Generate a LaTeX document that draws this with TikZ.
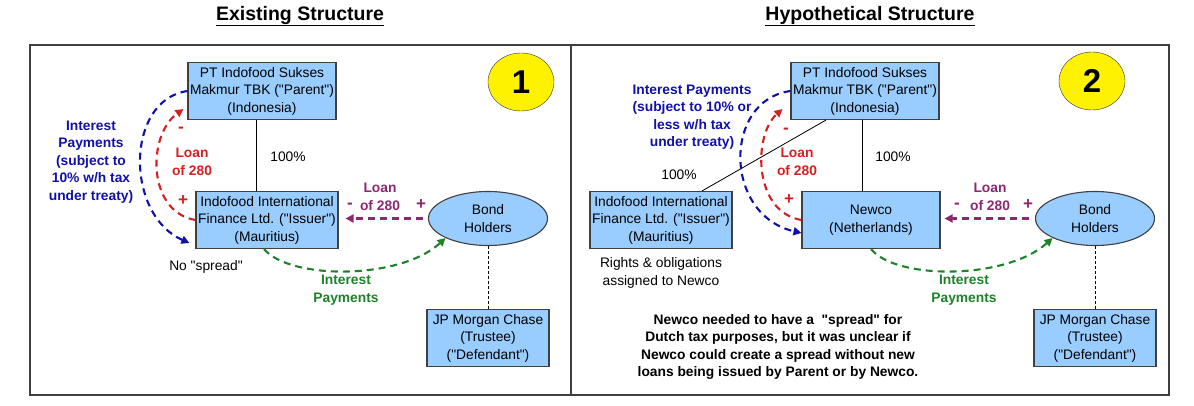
\documentclass[tikz,border=0pt]{standalone}
\usepackage{fontspec}
\setmainfont{Liberation Sans}[Ligatures=TeXReset]
\usetikzlibrary{shapes,arrows.meta,positioning,calc}
\definecolor{entityblue}{RGB}{153,204,255}
\definecolor{payblue}{RGB}{16,16,170}
\definecolor{loanred}{RGB}{214,32,32}
\definecolor{bondpurple}{RGB}{140,40,110}
\definecolor{paygreen}{RGB}{30,130,40}
\newcommand\diagfont{\fontsize{13.8}{17.5}\selectfont}

\begin{document}
\begin{tikzpicture}[x=1pt, y=-1pt, every node/.style={font=\diagfont, align=center},
  entity/.style={draw=black!75, line width=1.1pt, fill=entityblue, minimum height=57pt, inner sep=2pt},
  holders/.style={draw=black!75, line width=1.1pt, fill=entityblue, ellipse, minimum width=119pt, minimum height=54pt},
  badge/.style={draw=black!80, fill=yellow, ellipse, minimum width=66pt, minimum height=58pt, font=\fontsize{33}{33}\selectfont\bfseries},
  flow/.style={dash pattern=on 7pt off 5pt, line width=2.1pt, -{Triangle[length=8pt,width=8pt]}},
  tag/.style={font=\diagfont\bfseries},
  sign/.style={font=\fontsize{17}{17}\selectfont\bfseries},
  heading/.style={font=\fontsize{19.5}{22}\selectfont\bfseries}]
  \useasboundingbox (0,0) rectangle (1194,405);
  \draw[black!75, line width=1.3pt] (30,45) rectangle (1169,395);
  \draw[black!75, line width=1.3pt] (571,45) -- (571,395);

  % existing structure
  \node[heading] (titleA) at (300,16) {\underline{Existing Structure}};
  \node[entity, minimum width=148pt] (parentA) at (262,91) {PT Indofood Sukses\\Makmur TBK ("Parent")\\(Indonesia)};
  \node[entity, minimum width=142pt] (issuerA) at (267,220) {Indofood International\\Finance Ltd. ("Issuer")\\(Mauritius)};
  \node[holders] (bondsA) at (488,218.5) {Bond\\Holders};
  \node[entity, minimum width=122pt, below=63pt of bondsA] (trusteeA) {JP Morgan Chase\\(Trustee)\\("Defendant")};
  \node[badge] (badgeA) at (521,82) {1};
  \node (stakeA) at (288,157) {100\%};
  \node (nospread) at (206,267) {No "spread"};
  \node[tag, text=payblue] (payA) at (91,162) {Interest\\Payments\\(subject to\\10\% w/h tax\\under treaty)};
  \node[tag, text=loanred] (loanA) at (192,162) {Loan\\of 280};
  \node[sign, text=loanred] (minusA) at (181,130) {-};
  \node[sign, text=loanred] (plusA) at (183,201) {+};
  \node[tag, text=bondpurple] (bondloanA) at (380,188) {Loan};
  \node[tag, text=bondpurple] (bondofA) at (380,206) {of 280};
  \node[sign, text=bondpurple] (bminusA) at (350,206) {-};
  \node[sign, text=bondpurple] (bplusA) at (421,205) {+};
  \node[tag, text=paygreen] (couponA) at (346,290) {Interest\\Payments};

  \draw[line width=0.8pt] ([xshift=-6pt]parentA.south) -- ([xshift=-11pt]issuerA.north);
  \draw[payblue, flow] (parentA.west) .. controls (125,100) and (125,215) .. ([shift={(-6,23)}]issuerA.west);
  \draw[loanred, flow] (issuerA.west) .. controls (147,212) and (147,135) .. ([shift={(-4,-11)}]parentA.south west);
  \draw[bondpurple, flow, shorten <=5pt, shorten >=7pt] (bondsA.west) -- (issuerA.east |- bondsA.west);
  \draw[paygreen, flow] ([xshift=-3pt]issuerA.south) .. controls (290,280) and (400,280) .. (bondsA.south west);
  \draw[densely dashed, line width=0.7pt] (bondsA.south) -- (trusteeA.north);

  % hypothetical structure
  \node[heading] (titleB) at (870,16) {\underline{Hypothetical Structure}};
  \node[entity, minimum width=144pt] (parentB) at (865,91) {PT Indofood Sukses\\Makmur TBK ("Parent")\\(Indonesia)};
  \node[entity, minimum width=138pt] (newcoB) at (871,220) {Newco\\(Netherlands)};
  \node[entity, minimum width=142pt] (issuerB) at (661,220) {Indofood International\\Finance Ltd. ("Issuer")\\(Mauritius)};
  \node[holders] (bondsB) at (1095,218.5) {Bond\\Holders};
  \node[entity, minimum width=122pt, below=63pt of bondsB] (trusteeB) {JP Morgan Chase\\(Trustee)\\("Defendant")};
  \node[badge] (badgeB) at (1092,81) {2};
  \node (stakeB) at (893,157) {100\%};
  \node (stakeC) at (679,175) {100\%};
  \node (assigned) at (661,273) {Rights \& obligations\\assigned to Newco};
  \node[tag] (note) at (778,347) {Newco needed to have a \ "spread" for\\Dutch tax purposes, but it was unclear if\\Newco could create a spread without new\\loans being issued by Parent or by Newco.};
  \node[tag, text=payblue] (payB) at (692,117) {Interest Payments\\(subject to 10\% or\\less w/h tax\\under treaty)};
  \node[tag, text=loanred] (loanB) at (797,162) {Loan\\of 280};
  \node[sign, text=loanred] (minusB) at (786,131) {-};
  \node[sign, text=loanred] (plusB) at (789,200) {+};
  \node[tag, text=bondpurple] (bondloanB) at (990,188) {Loan};
  \node[tag, text=bondpurple] (bondofB) at (990,206) {of 280};
  \node[sign, text=bondpurple] (bminusB) at (957,206) {-};
  \node[sign, text=bondpurple] (bplusB) at (1028,205) {+};
  \node[tag, text=paygreen] (couponB) at (964,290) {Interest\\Payments};

  \draw[line width=0.8pt] ([xshift=-3pt]parentB.south) -- ([xshift=-9pt]newcoB.north);
  \draw[line width=0.8pt] ([xshift=-39pt]parentB.south) -- ([xshift=41pt]issuerB.north);
  \draw[payblue, flow] (parentB.west) .. controls (723,100) and (723,215) .. ([shift={(0,13)}]newcoB.west);
  \draw[loanred, flow] (newcoB.west) .. controls (753,212) and (753,135) .. ([shift={(-8,-11)}]parentB.south west);
  \draw[bondpurple, flow, shorten <=6pt, shorten >=4pt] (bondsB.west) -- (newcoB.east |- bondsB.west);
  \draw[paygreen, flow] (newcoB.south) .. controls (896,280) and (1006,280) .. (bondsB.south west);
  \draw[densely dashed, line width=0.7pt] (bondsB.south) -- (trusteeB.north);
\end{tikzpicture}
\end{document}
